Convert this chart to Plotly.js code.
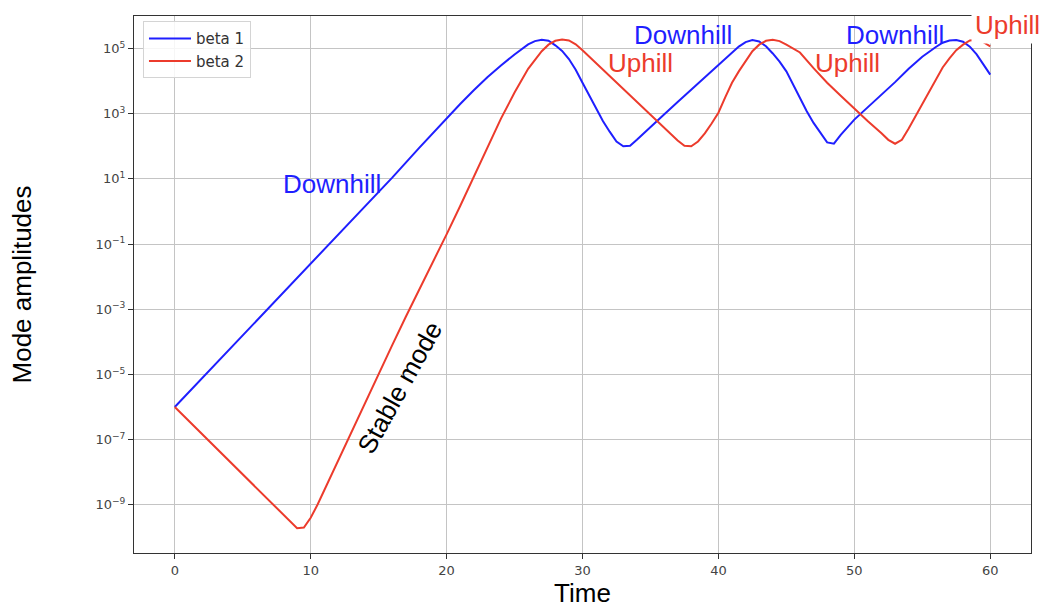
<!DOCTYPE html>
<html>
<head>
<meta charset="utf-8">
<script src="https://cdn.plot.ly/plotly-3.0.1.min.js"></script>
<style>html,body{margin:0;padding:0;background:#fff;}#chart{width:1044px;height:608px;}</style>
</head>
<body>
<div id="chart"></div>
<script>
// Time samples
const timeBeta1 = [0,2,4,6,8,10,12,14,16,18,20,21,22,23,24,25,26,26.5,27,27.5,28,28.5,29,29.5,30,30.5,31,31.5,32,32.5,33,33.5,34,35,36,37,38,39,40,41,41.5,42,42.5,43,43.5,44,44.5,45,45.5,46,46.5,47,47.5,48,48.5,49,50,51,52,53,54,55,56,56.5,57,57.5,58,58.5,59,59.5,60];
// log10 of beta 1 amplitude
const beta1Log10 = [-6.0,-5.12,-4.24,-3.36,-2.48,-1.6,-0.72,0.16,1.04,1.96,2.86,3.3,3.72,4.12,4.48,4.82,5.13,5.23,5.27,5.24,5.1,4.93,4.68,4.35,3.95,3.55,3.15,2.78,2.45,2.15,2.0,2.02,2.2,2.6,2.98,3.36,3.74,4.12,4.5,4.88,5.06,5.2,5.26,5.22,5.07,4.85,4.6,4.3,3.9,3.47,3.08,2.72,2.4,2.12,2.08,2.35,2.82,3.2,3.58,3.97,4.38,4.75,5.05,5.18,5.25,5.26,5.21,5.06,4.82,4.5,4.2];

const timeBeta2 = [0,2,4,6,8,8.5,9,9.5,10,10.5,11,12,13,14,15,16,17,18,19,20,21,22,23,24,25,26,27,27.5,28,28.5,29,29.5,30,31,32,33,34,35,36,37,37.5,38,38.5,39,39.5,40,40.5,41,41.5,42,42.5,43,43.5,44,44.5,45,46,47,48,49,50,51,52,52.5,53,53.5,54,55,56,56.5,57,57.5,58,58.5,59,59.5,60];
// log10 of beta 2 amplitude
const beta2Log10 = [-6.0,-6.82,-7.64,-8.46,-9.28,-9.5,-9.72,-9.7,-9.4,-9.0,-8.55,-7.65,-6.75,-5.85,-4.97,-4.1,-3.23,-2.4,-1.55,-0.7,0.17,1.05,1.95,2.85,3.65,4.38,4.92,5.12,5.24,5.28,5.25,5.13,4.95,4.55,4.15,3.75,3.35,2.95,2.55,2.18,2.02,2.0,2.15,2.4,2.7,3.03,3.5,3.95,4.3,4.62,4.92,5.12,5.24,5.27,5.23,5.12,4.88,4.4,3.95,3.55,3.15,2.77,2.4,2.2,2.08,2.2,2.55,3.3,4.05,4.42,4.7,4.95,5.12,5.25,5.26,5.2,5.07];

const seriesNames = ["beta 1", "beta 2"];
const xTickVals = [0,10,20,30,40,50,60];
const yTickExps = [-9,-7,-5,-3,-1,1,3,5];

const BLUE = "#1f1fff";
const RED = "#ec3b2c";

const toAmp = a => a.map(v => Math.pow(10, v));

const traces = [
  {x: timeBeta1, y: toAmp(beta1Log10), name: seriesNames[0], type: "scatter", mode: "lines",
   line: {color: BLUE, width: 2}},
  {x: timeBeta2, y: toAmp(beta2Log10), name: seriesNames[1], type: "scatter", mode: "lines",
   line: {color: RED, width: 2}}
];

const FAM = "Liberation Sans, Arial, sans-serif";
const bigFont = {family: FAM, size: 26};

const layout = {
  width: 1044, height: 608,
  margin: {l: 134, r: 13, t: 16, b: 55},
  paper_bgcolor: "#fff", plot_bgcolor: "#fff",
  showlegend: true,
  legend: {x: 0.01, y: 0.99, xanchor: "left", yanchor: "top",
    bgcolor: "rgba(255,255,255,0.85)", bordercolor: "#d4d4d4", borderwidth: 1,
    tracegroupgap: 2, itemwidth: 42,
    font: {family: "DejaVu Sans, sans-serif", size: 15, color: "#333"}},
  xaxis: {
    range: [-3, 63], tickvals: xTickVals, ticktext: xTickVals.map(String),
    showgrid: true, gridcolor: "#c4c4c4", gridwidth: 1, zeroline: false,
    showline: true, linecolor: "#333", linewidth: 1, mirror: true,
    ticks: "outside", ticklen: 5, tickcolor: "#333",
    tickfont: {family: "DejaVu Sans, sans-serif", size: 13, color: "#444"},
    title: {text: "Time", font: {family: FAM, size: 26, color: "#000"}, standoff: 8},
    automargin: false
  },
  yaxis: {
    type: "log", range: [-10.48, 6.0],
    tickvals: yTickExps.map(e => Math.pow(10, e)),
    ticktext: yTickExps.map(e => "10<sup>" + (e < 0 ? "\u2212" + (-e) : e) + "</sup>"),
    showgrid: true, gridcolor: "#c4c4c4", gridwidth: 1, zeroline: false,
    showline: true, linecolor: "#333", linewidth: 1, mirror: true,
    ticks: "outside", ticklen: 5, tickcolor: "#333",
    tickfont: {family: "DejaVu Sans, sans-serif", size: 13, color: "#444"},
    title: {text: "Mode amplitudes", font: {family: FAM, size: 26, color: "#000"}, standoff: 56},
    automargin: false
  },
  annotations: [
    {x: 11.6, y: 0.84, xref: "x", yref: "y", text: "Downhill", showarrow: false,
     font: Object.assign({}, bigFont, {color: BLUE})},
    {x: 37.4, y: 5.41, xref: "x", yref: "y", text: "Downhill", showarrow: false,
     font: Object.assign({}, bigFont, {color: BLUE})},
    {x: 53.0, y: 5.41, xref: "x", yref: "y", text: "Downhill", showarrow: false,
     font: Object.assign({}, bigFont, {color: BLUE})},
    {x: 34.3, y: 4.55, xref: "x", yref: "y", text: "Uphill", showarrow: false,
     font: Object.assign({}, bigFont, {color: RED})},
    {x: 49.5, y: 4.55, xref: "x", yref: "y", text: "Uphill", showarrow: false,
     font: Object.assign({}, bigFont, {color: RED})},
    {x: 61.3, y: 5.72, xref: "x", yref: "y", text: "Uphill", showarrow: false,
     bgcolor: "#fff", borderpad: 3,
     font: Object.assign({}, bigFont, {color: RED})},
    {x: 16.6, y: -5.4, xref: "x", yref: "y", text: "Stable mode", showarrow: false,
     textangle: -61, font: Object.assign({}, bigFont, {color: "#000"})}
  ]
};

Plotly.newPlot("chart", traces, layout, {displayModeBar: false, staticPlot: true});
</script>
</body>
</html>
